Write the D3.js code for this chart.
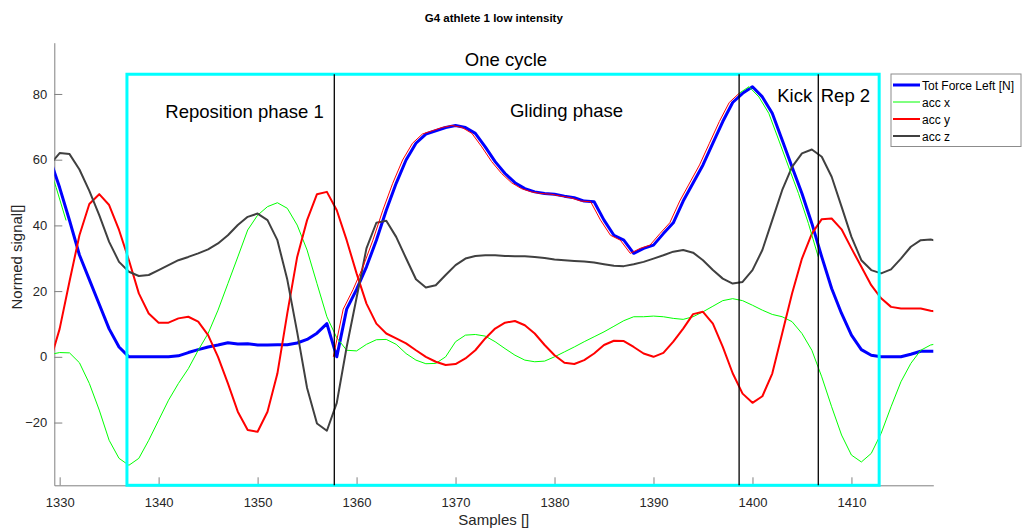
<!DOCTYPE html>
<html>
<head>
<meta charset="utf-8">
<script src="https://cdn.jsdelivr.net/npm/d3@7"></script>
<style>
  body { margin: 0; background: #fff; }
  svg { font-family: "Liberation Sans", Arial, Helvetica, sans-serif; }
</style>
</head>
<body>
<div id="chart"></div>
<script>
// One reading per sample, starting at this sample number
const firstSample = 1329;

const forceLeft = [
  60.4, 51.5, 41.5, 31, 23.5, 16, 8.5, 3, 0, 0,
  0, 0, 0, 0.3, 1.3, 2.2, 3.0, 3.6, 4.3, 3.9,
  4.0, 3.6, 3.6, 3.7, 3.7, 4.2, 5.3, 7.2, 10.1, 0,
  14.5, 20.5, 27.4, 35.5, 44.6, 52.8, 59.9, 65, 67.8, 68.8,
  69.8, 70.4, 69.8, 68, 63.9, 59.4, 55.8, 53, 51.2, 50.2,
  49.7, 49.5, 48.9, 48.4, 47.4, 47.2, 41.6, 37, 35.5, 31.5,
  33, 34, 37.5, 40.8, 47.4, 52.9, 58.4, 65, 71.6, 77.4,
  80.2, 82.2, 79.1, 74.1, 66, 57.8, 49.7, 40.6, 30.4, 20.8,
  13.2, 6.6, 2.2, 0.5, 0, 0, 0, 0.8, 1.7, 1.7,
  1.7
];

const accX = [
  0.7, 1.3, 1.2, -1.8, -8.1, -16.2, -25.4, -30.9, -33, -30.9,
  -25.4, -19.3, -13.2, -8.1, -3.6, 2.0, 7.1, 14.2, 22.3, 30.4,
  38.6, 43.1, 45.7, 46.9, 45.2, 40.1, 32.5, 22.3, 12.2, 5.8,
  2.0, 1.8, 3.8, 5.2, 5.3, 3.8, 1.0, -1.0, -2.1, -2.0,
  0, 4.6, 6.6, 6.8, 6.3, 4.6, 2.5, 0.5, -1.0, -1.5,
  -1.3, 0, 1.5, 3.0, 4.6, 6.1, 7.6, 9.3, 11, 12.2,
  12.2, 12.4, 12.2, 11.7, 11.4, 12.2, 13.7, 15.4, 17.1, 17.7,
  17.1, 15.7, 14.2, 12.9, 12.2, 10.7, 7.1, 2.0, -6.1, -15.2,
  -23.8, -29.9, -32, -29.4, -23.3, -15.2, -7.6, -2.0, 2.0, 3.6,
  4.2
];

const accY = [
  -1.7, 8.5, 23, 37, 46.5, 49.5, 46.2, 38.6, 29.4, 19.3,
  13.2, 10.4, 10.4, 11.7, 12.2, 10.7, 6.6, 0, -8.1, -16.7,
  -22.3, -22.8, -16.7, -5.1, 13.2, 30.4, 41.6, 49.5, 50.2, 44.6,
  35.5, 25.4, 16.2, 10.1, 7.1, 5.6, 4.1, 2.0, 0, -1.5,
  -2.5, -2.2, -0.5, 2.0, 5.6, 8.6, 10.4, 10.9, 9.6, 7.1,
  3.6, 0.5, -1.8, -2.2, -1.0, 1.0, 3.6, 4.9, 4.8, 3.0,
  1.0, 0, 1.2, 4.6, 8.6, 13, 13.7, 10.1, 3.0, -5,
  -11.2, -14, -12, -5.1, 7.1, 19.3, 29.9, 37.5, 41.9, 42.1,
  38.8, 33, 27.4, 21.8, 17.8, 15.2, 14.7, 14.7, 14.7, 14.0,
  13.6
];

const accZ = [
  58.5, 62, 61.7, 57, 50.5, 43.1, 35, 28.9, 25.9, 24.6,
  24.9, 26.4, 27.9, 29.4, 30.4, 31.5, 32.7, 34.5, 37, 40.1,
  42.6, 43.6, 41.6, 35.5, 23.5, 7.5, -9.5, -20.3, -22.5, -14,
  3, 18, 33, 40.8, 41.4, 36.5, 30, 23.6, 21.1, 21.8,
  24.9, 27.9, 29.9, 30.7, 30.9, 30.9, 30.7, 30.6, 30.6, 30.4,
  30.1, 29.6, 29.4, 29.2, 29, 28.7, 28.2, 27.7, 27.6, 28.2,
  28.9, 29.9, 30.9, 32, 32.5, 31.7, 29.4, 26.4, 23.8, 22.3,
  22.8, 26.4, 32.5, 41.6, 50.7, 57.8, 61.9, 63.1, 60.9, 54.8,
  45.7, 36.5, 29.4, 26.4, 25.4, 26.6, 29.9, 33.5, 35.5, 35.7,
  35
];

const xTicks = [1330, 1340, 1350, 1360, 1370, 1380, 1390, 1400, 1410];
const yTicks = [-20, 0, 20, 40, 60, 80];
const xLimits = [1329.46, 1418.27];
const yLimits = [-39.1, 95.6];

// Cycle box and phase boundaries, in samples / signal units
const cycleBox = {start: 1336.8, end: 1412.8, top: 86};
const phaseBounds = [1357.75, 1398.65, 1406.65];

// Force curve re-plotted per phase (drawn a fraction of a sample earlier)
const phaseShift = -0.35;
const phaseSegments = [
  {from: 1329, to: 1331, color: "#00ff00"},
  {from: 1358, to: 1399, color: "#ff0000"},
  {from: 1399, to: 1407, color: "#00ff00"}
];

const annotations = [
  {text: "One cycle", x: 1370.94, y: 88.5},
  {text: "Reposition phase 1", x: 1340.68, y: 72.6},
  {text: "Gliding phase", x: 1375.5, y: 72.9},
  {text: "Kick", x: 1402.5, y: 77.6},
  {text: "Rep 2", x: 1406.9, y: 77.6}
];

const series = [
  {name: "Tot Force Left [N]", values: forceLeft, color: "#0000ff", width: 3},
  {name: "acc x", values: accX, color: "#00ff00", width: 1},
  {name: "acc y", values: accY, color: "#ff0000", width: 2},
  {name: "acc z", values: accZ, color: "#404040", width: 2}
];

const width = 1022, height = 532;
const margin = {top: 42.7, right: 88.7, bottom: 46.7, left: 54.3};
const plotW = width - margin.left - margin.right;
const plotH = height - margin.top - margin.bottom;
const AXIS_COLOR = "#262626";

const svg = d3.select("#chart").append("svg")
  .attr("width", width)
  .attr("height", height);

const g = svg.append("g")
  .attr("transform", `translate(${margin.left},${margin.top})`);

const x = d3.scaleLinear().domain(xLimits).range([0, plotW]);
const y = d3.scaleLinear().domain(yLimits).range([plotH, 0]);

// Axes (ticks point inward, no box)
const xAxis = g.append("g")
  .attr("transform", `translate(0,${plotH})`)
  .call(d3.axisBottom(x).tickValues(xTicks).tickFormat(d3.format("d"))
    .tickSizeInner(-8).tickSizeOuter(0).tickPadding(12));
const yAxis = g.append("g")
  .call(d3.axisLeft(y).tickValues(yTicks).tickFormat(d3.format("d"))
    .tickSizeInner(-8).tickSizeOuter(0).tickPadding(7));

[xAxis, yAxis].forEach(a => {
  a.select(".domain").attr("stroke", "#808080");
  a.selectAll(".tick line").attr("stroke", "#808080");
  a.selectAll(".tick text")
    .attr("fill", AXIS_COLOR)
    .attr("font-size", 13)
    .attr("font-family", "Liberation Sans, Arial, sans-serif");
});

// Axis labels and title
g.append("text")
  .attr("x", plotW / 2)
  .attr("y", plotH + 39.7)
  .attr("text-anchor", "middle")
  .attr("font-size", 15)
  .attr("fill", AXIS_COLOR)
  .text("Samples []");

g.append("text")
  .attr("transform", `translate(${-32},${plotH / 2 - 7}) rotate(-90)`)
  .attr("text-anchor", "middle")
  .attr("font-size", 15)
  .attr("fill", AXIS_COLOR)
  .text("Normed signal[]");

g.append("text")
  .attr("x", plotW / 2)
  .attr("y", -21)
  .attr("text-anchor", "middle")
  .attr("font-size", 11.5)
  .attr("font-weight", "bold")
  .attr("fill", "#000")
  .text("G4 athlete 1 low intensity");

// Clip data lines to the axes area
svg.append("defs").append("clipPath")
  .attr("id", "plotClip")
  .append("rect")
  .attr("width", plotW)
  .attr("height", plotH);

const lines = g.append("g").attr("clip-path", "url(#plotClip)");

const line = d3.line()
  .x(d => x(d.sample))
  .y(d => y(d.value));

const toPoints = values => values.map((v, i) => ({sample: firstSample + i, value: v}));

series.forEach(s => {
  lines.append("path")
    .datum(toPoints(s.values))
    .attr("d", line)
    .attr("fill", "none")
    .attr("stroke", s.color)
    .attr("stroke-width", s.width)
    .attr("stroke-linejoin", "round");
});

phaseSegments.forEach(seg => {
  const pts = toPoints(forceLeft)
    .filter(d => d.sample >= seg.from && d.sample <= seg.to)
    .map(d => ({sample: d.sample + phaseShift, value: d.value}));
  lines.append("path")
    .datum(pts)
    .attr("d", line)
    .attr("fill", "none")
    .attr("stroke", seg.color)
    .attr("stroke-width", 1)
    .attr("stroke-linejoin", "round");
});

// Cycle box
g.append("rect")
  .attr("x", x(cycleBox.start))
  .attr("y", y(cycleBox.top))
  .attr("width", x(cycleBox.end) - x(cycleBox.start))
  .attr("height", y(yLimits[0]) - y(cycleBox.top))
  .attr("fill", "none")
  .attr("stroke", "#00ffff")
  .attr("stroke-width", 3);

// Phase boundaries
g.selectAll("line.phaseBound")
  .data(phaseBounds)
  .enter()
  .append("line")
  .attr("class", "phaseBound")
  .attr("x1", d => x(d))
  .attr("x2", d => x(d))
  .attr("y1", y(cycleBox.top))
  .attr("y2", y(yLimits[0]))
  .attr("stroke", "#000")
  .attr("stroke-width", 1.3);

g.selectAll("text.annotation")
  .data(annotations)
  .enter()
  .append("text")
  .attr("class", "annotation")
  .attr("x", d => x(d.x))
  .attr("y", d => y(d.y))
  .attr("font-size", 18.5)
  .attr("fill", "#000")
  .text(d => d.text);

// Legend
const legend = svg.append("g").attr("transform", "translate(891,74)");
legend.append("rect")
  .attr("width", 130)
  .attr("height", 72.5)
  .attr("fill", "#fff")
  .attr("stroke", "#8c8c8c")
  .attr("stroke-width", 1);

series.forEach((s, i) => {
  const row = legend.append("g").attr("transform", `translate(0,${11 + i * 17})`);
  row.append("line")
    .attr("x1", 2).attr("x2", 29)
    .attr("stroke", s.color)
    .attr("stroke-width", s.width);
  row.append("text")
    .attr("x", 31)
    .attr("y", 4.5)
    .attr("font-size", 12)
    .attr("fill", "#000")
    .text(s.name);
});
</script>
</body>
</html>
